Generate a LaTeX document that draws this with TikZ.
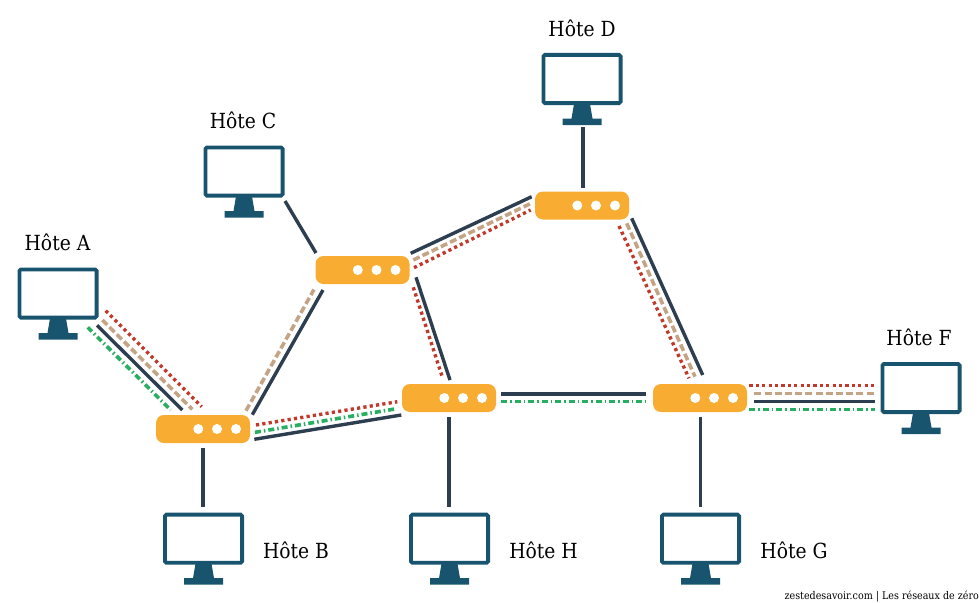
\documentclass[tikz,border=0pt]{standalone}
\usepackage{fontspec}
\setmainfont[FakeStretch=0.9]{DejaVu Serif}
\usepackage{xcolor}
\usetikzlibrary{calc}
\definecolor{bleuecran}{HTML}{19546F}
\definecolor{orangerouteur}{HTML}{F9AC32}
\definecolor{cable}{HTML}{2C3E50}
\definecolor{rouge}{HTML}{C0392B}
\definecolor{beige}{HTML}{C4A484}
\definecolor{vert}{HTML}{27AE60}
\tikzset{
  hote/.style={rectangle, draw=bleuecran, fill=white, line width=3.8pt, rounded corners=1.5pt, inner sep=0pt, minimum width=77.2pt, minimum height=48.2pt},
  routeur/.style={rectangle, fill=orangerouteur, rounded corners=8pt, inner sep=0pt, minimum width=94pt, minimum height=28pt},
  nom/.style={font=\fontsize{20.8}{24}\selectfont, text=black, inner sep=0pt},
  plein/.style={draw=cable, line width=3.4pt},
  tirets/.style={draw=beige, line width=3.6pt, dash pattern=on 7pt off 3.2pt},
  points/.style={draw=rouge, line width=3.4pt, dash pattern=on 3.2pt off 3.2pt},
  mixte/.style={draw=vert, line width=3.6pt, dash pattern=on 6pt off 3pt on 1.5pt off 3pt}
}
\begin{document}
\begin{tikzpicture}[x=1pt,y=-1pt]
  \useasboundingbox (0,0) rectangle (979,602);
  % hotes
  \node[hote] (hA) at (58,293.5) {};
  \node[hote] (hB) at (203.5,538.7) {};
  \node[hote] (hC) at (244,171.5) {};
  \node[hote] (hD) at (582,79) {};
  \node[hote] (hF) at (921,388) {};
  \node[hote] (hG) at (700.5,538.7) {};
  \node[hote] (hH) at (449.5,538.7) {};
  \foreach \h in {hA,hB,hC,hD,hF,hG,hH} {
    \fill[bleuecran] ([shift={(-8,25)}]\h.center) -- ([shift={(8,25)}]\h.center) -- ([shift={(10.5,39.5)}]\h.center) -- ([shift={(19.5,39.5)}]\h.center)
      -- ([shift={(19.5,46)}]\h.center) -- ([shift={(-19.5,46)}]\h.center) -- ([shift={(-19.5,39.5)}]\h.center) -- ([shift={(-10.5,39.5)}]\h.center) -- cycle;
  }
  % routeurs
  \node[routeur] (rB) at (203,429) {};
  \node[routeur] (rC) at (362.5,270) {};
  \node[routeur] (rD) at (582,205.5) {};
  \node[routeur] (rH) at (449,398) {};
  \node[routeur] (rG) at (700,398) {};
  \foreach \r in {rB,rC,rD,rH,rG} {
    \foreach \d in {-4.7,14,33} {
      \fill[white] ([shift={(\d,0)}]\r.center) circle (5);
    }
  }
  % noms
  \node[nom] (nA) at (57.5,242) {Hôte A};
  \node[nom] (nB) at (296,550) {Hôte B};
  \node[nom] (nC) at (243,120) {Hôte C};
  \node[nom] (nD) at (582,28) {Hôte D};
  \node[nom] (nF) at (919,337) {Hôte F};
  \node[nom] (nG) at (794,550) {Hôte G};
  \node[nom] (nH) at (543.5,550) {Hôte H};
  \node[font=\fontsize{10.6}{12}\selectfont, inner sep=0pt, anchor=east] (credit) at (979,597) {zestedesavoir.com | Les réseaux de zéro};
  % A -- B
  \path[points] ([shift={(47.7,17.2)}]hA.center) -- ([shift={(-1.3,-22.3)}]rB.center);
  \path[tirets] ([shift={(44.3,26.5)}]hA.center) -- ([shift={(-10.7,-19.7)}]rB.center);
  \path[plein] ([shift={(39,31.8)}]hA.center) -- ([shift={(-20.7,-19)}]rB.center);
  \path[mixte] ([shift={(29.7,33.8)}]hA.center) -- ([shift={(-32.3,-19)}]rB.center);
  % B -- C
  \path[tirets] ([shift={(43,-18.3)}]rB.center) -- ([shift={(-48.5,19.5)}]rC.center);
  \path[plein] ([shift={(49.3,-14.3)}]rB.center) -- ([shift={(-39.5,20)}]rC.center);
  % B -- H
  \path[points] ([shift={(53,-4)}]rB.center) -- ([shift={(-51.7,3.7)}]rH.center);
  \path[mixte] ([shift={(52,3.3)}]rB.center) -- ([shift={(-52.3,10.7)}]rH.center);
  \path[plein] ([shift={(51.3,10.3)}]rB.center) -- ([shift={(-47.7,17)}]rH.center);
  % C -- D
  \path[plein] ([shift={(48.2,-16.7)}]rC.center) -- ([shift={(-50.3,-8.8)}]rD.center);
  \path[tirets] ([shift={(50.8,-10)}]rC.center) -- ([shift={(-49.7,-2.8)}]rD.center);
  \path[points] ([shift={(51.5,-2.3)}]rC.center) -- ([shift={(-51.3,4.5)}]rD.center);
  % C -- H
  \path[plein] ([shift={(53.5,7.3)}]rC.center) -- ([shift={(1,-18)}]rH.center);
  \path[points] ([shift={(50.8,17.3)}]rC.center) -- ([shift={(-6.3,-19.7)}]rH.center);
  % D -- G
  \path[plein] ([shift={(49.7,12.8)}]rD.center) -- ([shift={(2.7,-23)}]rG.center);
  \path[tirets] ([shift={(44.7,17.8)}]rD.center) -- ([shift={(-5,-21.3)}]rG.center);
  \path[points] ([shift={(37,20.5)}]rD.center) -- ([shift={(-11,-19.7)}]rG.center);
  % H -- G
  \path[plein] ([shift={(52,-4)}]rH.center) -- ([shift={(-54,-4)}]rG.center);
  \path[mixte] ([shift={(52,3.5)}]rH.center) -- ([shift={(-54,3.5)}]rG.center);
  % G -- F
  \path[points] ([shift={(49.3,-12.3)}]rG.center) -- ([shift={(-46.7,-2.3)}]hF.center);
  \path[tirets] ([shift={(54.3,-4.7)}]rG.center) -- ([shift={(-46,5.3)}]hF.center);
  \path[plein] ([shift={(54.3,3.3)}]rG.center) -- ([shift={(-46,13.3)}]hF.center);
  \path[mixte] ([shift={(49.3,11.3)}]rG.center) -- ([shift={(-46,21.3)}]hF.center);
  % hotes seuls
  \path[plein] (rB.center) ++(0,18.7) -- ([shift={(-0.5,-31.7)}]hB.center);
  \path[plein] (rH.center) ++(0,19) -- ([shift={(-0.5,-31.7)}]hH.center);
  \path[plein] (rG.center) ++(0.5,19) -- ([shift={(0,-31.7)}]hG.center);
  \path[plein] (rD.center) ++(1,-18) -- ([shift={(1,48)}]hD.center);
  \path[plein] (rC.center) ++(-46.5,-17) -- ([shift={(41,29.5)}]hC.center);
\end{tikzpicture}
\end{document}
